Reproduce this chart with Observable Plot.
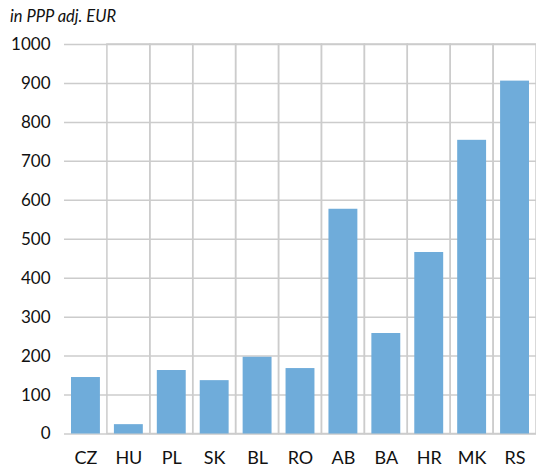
<!DOCTYPE html>
<html>
<head>
<meta charset="utf-8">
<script src="https://cdn.jsdelivr.net/npm/d3@7"></script>
<script src="https://cdn.jsdelivr.net/npm/@observablehq/plot@0.6"></script>
<style>
  html, body { margin: 0; padding: 0; background: #fff; }
  #wrap { position: relative; width: 536px; height: 468px; font-family: Lato, "Open Sans", sans-serif; }
  #title { height: 30px; font-size: 16.5px; font-style: italic; color: #111; padding-left: 10px; line-height: 32px; box-sizing: border-box; }
  svg { display: block; }
</style>
</head>
<body>
<div id="wrap">
  <div id="title">in PPP adj. EUR</div>
  <div id="chart"></div>
</div>
<script>
const countries = ["CZ", "HU", "PL", "SK", "BL", "RO", "AB", "BA", "HR", "MK", "RS"];
const values = [145, 24, 163, 137, 197, 168, 577, 258, 466, 754, 906];
const yTicks = [0, 100, 200, 300, 400, 500, 600, 700, 800, 900, 1000];
const yMax = 1000;

const data = countries.map((c, i) => ({country: c, value: values[i]}));

const chart = Plot.plot({
  width: 536,
  height: 438,
  marginLeft: 64,
  marginRight: 0,
  marginTop: 14,
  marginBottom: 34.5,
  style: {fontFamily: "Lato, 'Open Sans', sans-serif", color: "#111", background: "#fff"},
  x: {domain: countries, padding: 0, round: false, label: null, tickSize: 0, tickPadding: 17},
  y: {domain: [0, yMax], ticks: yTicks, label: null, tickSize: 0, tickPadding: 14},
  marks: [
    Plot.ruleY(yTicks, {stroke: "#cccccc", strokeWidth: 1.5}),
    Plot.barY(countries.slice(1), {x: d => d, y1: 0, y2: yMax, fill: "none", stroke: "#cccccc", strokeWidth: 1.5}),
    Plot.barY(data, {x: "country", y: "value", fill: "#6facda", insetLeft: 7, insetRight: 7}),
    Plot.axisY({ticks: yTicks, tickFormat: d => String(d), tickSize: 0, tickPadding: 14, fontSize: 17, label: null}),
    Plot.axisX({tickSize: 0, tickPadding: 17, fontSize: 18, label: null})
  ]
});
document.getElementById("chart").appendChild(chart);
</script>
</body>
</html>
